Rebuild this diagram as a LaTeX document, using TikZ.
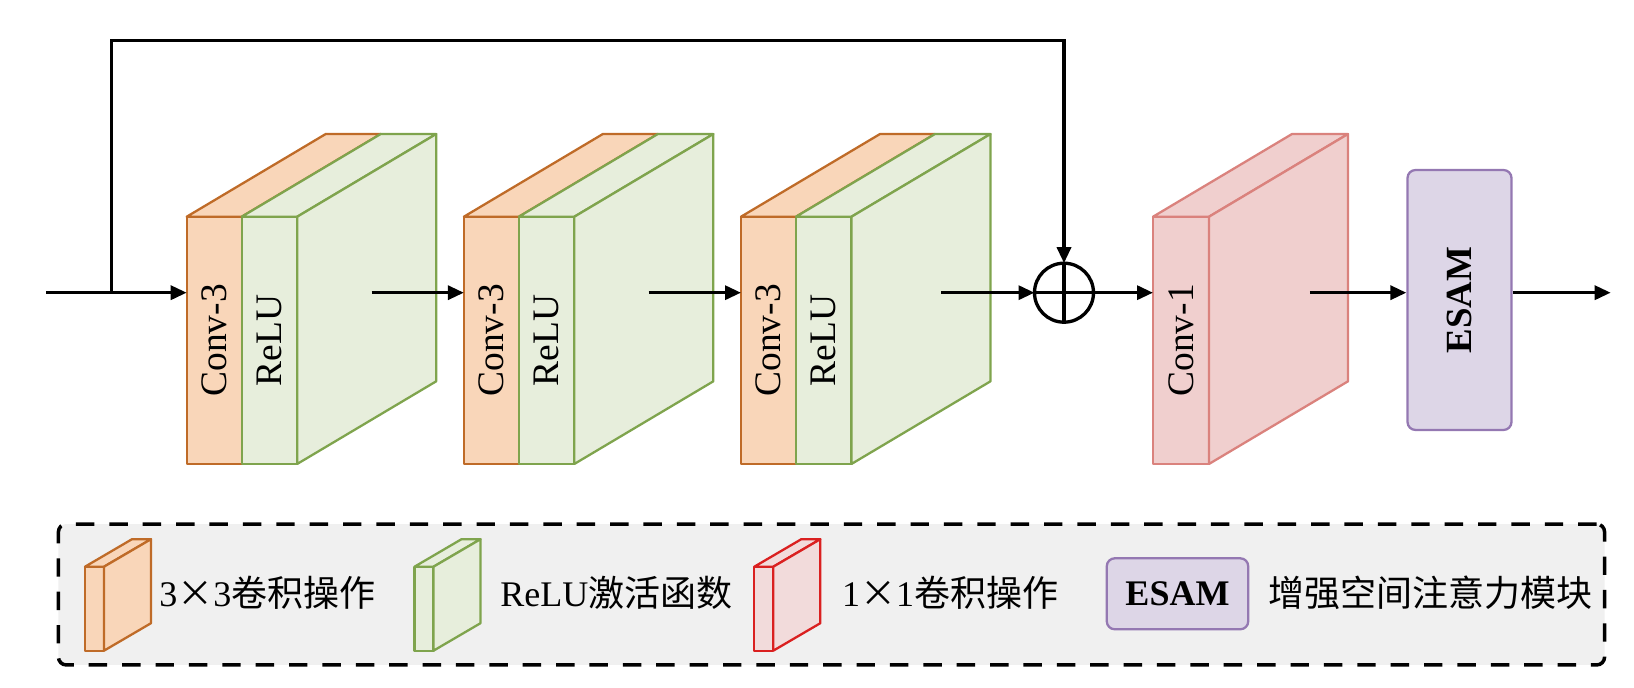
\documentclass[tikz,border=0pt]{standalone}
\usepackage{fontspec}
\setmainfont{Liberation Serif}
\newfontfamily\cjk{Noto Sans CJK SC}
\usetikzlibrary{positioning,arrows.meta}
\definecolor{convfill}{RGB}{249,214,185}
\definecolor{convline}{RGB}{191,107,40}
\definecolor{relufill}{RGB}{231,238,220}
\definecolor{reluline}{RGB}{127,164,77}
\definecolor{onefill}{RGB}{240,207,206}
\definecolor{oneline}{RGB}{218,130,125}
\definecolor{redfill}{RGB}{242,219,219}
\definecolor{redline}{RGB}{218,32,32}
\definecolor{esamfill}{RGB}{221,214,231}
\definecolor{esamline}{RGB}{148,120,178}
\definecolor{legendbg}{RGB}{240,240,240}
\begin{document}
\begin{tikzpicture}[x=0.02cm, y=-0.02cm, node distance=3.334cm, font=\fontsize{21.3}{25}\selectfont]
		% Estilos
		\tikzstyle{slab} = [rectangle, minimum height=4.946cm, inner sep=0pt, outer sep=0pt]
		\tikzstyle{minislab} = [rectangle, minimum width=0.38cm, minimum height=1.68cm, inner sep=0pt, outer sep=0pt]
		\tikzstyle{convface} = [draw=convline, fill=convfill, line width=1.3pt, line join=round]
		\tikzstyle{reluface} = [draw=reluline, fill=relufill, line width=1.3pt, line join=round]
		\tikzstyle{oneface} = [draw=oneline, fill=onefill, line width=1.3pt, line join=round]
		\tikzstyle{redface} = [draw=redline, fill=redfill, line width=1.3pt, line join=round]
		\tikzstyle{esambox} = [rectangle, rounded corners=0.16cm, draw=esamline, fill=esamfill, line width=1.3pt, font=\fontsize{21}{25}\selectfont\bfseries]
		\tikzstyle{legtext} = [anchor=west, inner sep=0pt, font=\fontsize{20.5}{24}\selectfont]
		\tikzstyle{arrow} = [line width=1.9pt, ->, >={Triangle[length=0.32cm,width=0.28cm]}]
		\useasboundingbox (0,0) rectangle (1634,688);
		% Legenda
		\node (legend) [rectangle, rounded corners=0.16cm, draw=black, fill=legendbg, line width=2pt, dash pattern=on 10.5pt off 8.5pt, minimum width=30.93cm, minimum height=2.82cm] at (831.5,594.5) {};
		\node (la) [minislab, convface] at (94.5,608.7) {};
		\node (lb) [minislab, reluface] at (424,608.7) {};
		\node (lc) [minislab, redface] at (763.8,608.7) {};
		\foreach \n/\s in {la/convface, lb/reluface, lc/redface} {
			\draw [\s] (\n.north west) -- (\n.north east) -- ++(47,-27.5) -- ++(-19,0) -- cycle;
			\draw [\s] (\n.north east) -- ++(47,-27.5) -- ++(0,84) -- (\n.south east) -- cycle;
		}
		\node (ta) [legtext] at (159,593) {3\makebox[1em]{\cjk ×}3{\cjk 卷积操作}};
		\node (tb) [legtext] at (500,593) {ReLU{\cjk 激活函数}};
		\node (tc) [legtext] at (841.7,593) {1\makebox[1em]{\cjk ×}1{\cjk 卷积操作}};
		\node (lesam) [esambox, minimum width=2.83cm, minimum height=1.42cm, font=\fontsize{20.5}{24}\selectfont\bfseries] at (1177.5,593.8) {ESAM};
		\node (td) [legtext] at (1268.3,593) {\cjk 增强空间注意力模块};
		% Blocos
		\node (c1) [slab, convface, minimum width=1.1cm] at (214.2,340.35) {\rotatebox{90}{Conv-3}};
		\node (r1) [slab, reluface, minimum width=1.11cm, right=0pt of c1] {\rotatebox{90}{ReLU}};
		\node (c2) [slab, convface, minimum width=1.1cm, right=of r1] {\rotatebox{90}{Conv-3}};
		\node (r2) [slab, reluface, minimum width=1.11cm, right=0pt of c2] {\rotatebox{90}{ReLU}};
		\node (c3) [slab, convface, minimum width=1.1cm, right=of r2] {\rotatebox{90}{Conv-3}};
		\node (r3) [slab, reluface, minimum width=1.11cm, right=0pt of c3] {\rotatebox{90}{ReLU}};
		\foreach \b in {1,2,3} {
			\draw [convface] (c\b.north west) -- (c\b.north east) -- ++(139,-82.7) -- ++(-55,0) -- cycle;
			\draw [reluface] (r\b.north west) -- (r\b.north east) -- ++(139,-82.7) -- ++(-55.5,0) -- cycle;
			\draw [reluface] (r\b.north east) -- ++(139,-82.7) -- ++(0,247.3) -- (r\b.south east) -- cycle;
		}
		\node (add) [circle, draw, fill=white, line width=1.9pt, minimum size=1.18cm, inner sep=0pt, outer sep=0pt] at (1064,292.7) {};
		\draw [line width=1.9pt] (add.north) -- (add.south) (add.west) -- (add.east);
		\node (k1) [slab, oneface, minimum width=1.12cm] at (1181,340.35) {\rotatebox{90}{Conv-1}};
		\draw [oneface] (k1.north west) -- (k1.north east) -- ++(139,-82.7) -- ++(-56,0) -- cycle;
		\draw [oneface] (k1.north east) -- ++(139,-82.7) -- ++(0,247.3) -- (k1.south east) -- cycle;
		\node (esam) [esambox, minimum width=2.08cm, minimum height=5.2cm] at (1459.5,300) {\rotatebox{90}{ESAM}};
		% Setas
		\coordinate (in) at (46,292.7);
		\coordinate (split) at (111.7,292.7);
		\coordinate (top) at (111.7,40.7);
		\coordinate (o1) at (371.7,292.7);
		\coordinate (o2) at (648.5,292.7);
		\coordinate (o3) at (941,292.7);
		\coordinate (o4) at (1309.9,292.7);
		\coordinate (out) at (1610.7,292.7);
		\draw [arrow] (in) -- (in -| c1.west);
		\draw [arrow] (split) -- (top) -- (top -| add) -- (add.north);
		\draw [arrow] (o1) -- (o1 -| c2.west);
		\draw [arrow] (o2) -- (o2 -| c3.west);
		\draw [arrow] (o3) -- (add.west);
		\draw [arrow] (add.east) -- (add.east -| k1.west);
		\draw [arrow] (o4) -- (o4 -| esam.west);
		\draw [arrow] (out -| esam.east) -- (out);
	\end{tikzpicture}
\end{document}
